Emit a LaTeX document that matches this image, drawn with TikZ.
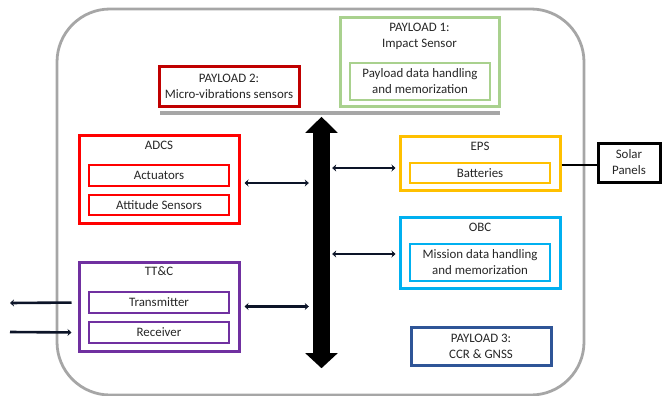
\documentclass[tikz,border=0pt]{standalone}
\usepackage{fontspec}
\setmainfont{Carlito}
\usepackage{xcolor}
\usetikzlibrary{positioning, arrows.meta}
\definecolor{framegray}{RGB}{166,166,166}
\definecolor{payloadred}{RGB}{192,0,0}
\definecolor{payloadgreen}{RGB}{169,209,142}
\definecolor{payloadblue}{RGB}{47,85,151}
\definecolor{adcsred}{RGB}{255,0,0}
\definecolor{ttcpurple}{RGB}{112,48,160}
\definecolor{epsgold}{RGB}{255,192,0}
\definecolor{obcblue}{RGB}{0,176,240}
\definecolor{linknavy}{RGB}{12,20,40}

\begin{document}
\begin{tikzpicture}[
    x=1pt, y=-1pt,
    txt/.style={font=\fontsize{12.9}{16}\selectfont, align=center, text=black!85},
    unit/.style={draw=#1, line width=3pt, inner sep=0pt},
    part/.style={draw=#1, line width=2.1pt, inner sep=0pt, minimum width=140pt, txt},
    link/.style={draw=linknavy, line width=2.2pt, {Stealth[length=4pt,width=7pt]}-{Stealth[length=4pt,width=7pt]}}
]
    \useasboundingbox (0,0) rectangle (664,396);

    % Spacecraft outline and payload shelf
    \draw[framegray, line width=2.8pt, rounded corners=53pt] (57,9) rectangle (584,395);
    \draw[framegray, line width=3.2pt] (160,113) -- (500,113);

    % Payloads
    \node[unit=payloadred, minimum width=140pt, minimum height=39pt, txt] (pl2) at (229,86.5)
        {PAYLOAD 2:\\Micro-vibrations sensors};
    \node[unit=payloadgreen, minimum width=159pt, minimum height=88pt] (pl1) at (419.5,62) {};
    \node[txt] (pl1t) at ([yshift=-19.5pt]pl1.north) {PAYLOAD 1:\\Impact Sensor};
    \node[part=payloadgreen, minimum height=37pt] (pl1mem) at (420,81.5)
        {Payload data handling\\and memorization};
    \node[unit=payloadblue, minimum width=140pt, minimum height=38pt, txt] (pl3) at (481,346)
        {PAYLOAD 3:\\CCR \& GNSS};

    % ADCS
    \node[unit=adcsred, minimum width=160pt, minimum height=88pt] (adcs) at (159,179) {};
    \node[txt] (adcst) at ([yshift=-11.5pt]adcs.north) {ADCS};
    \node[part=adcsred, minimum height=21pt] (act) at (159,175.5) {Actuators};
    \node[part=adcsred, minimum height=20pt] (att) at (159,205) {Attitude Sensors};

    % TT&C
    \node[unit=ttcpurple, minimum width=160pt, minimum height=89pt] (ttc) at (159,306.5) {};
    \node[txt] (ttct) at ([yshift=-11pt]ttc.north) {TT\&C};
    \node[part=ttcpurple, minimum height=21pt] (tx) at (159,302.5) {Transmitter};
    \node[part=ttcpurple, minimum height=21pt] (rx) at (159,332.5) {Receiver};

    % EPS
    \node[unit=epsgold, minimum width=160pt, minimum height=54pt] (eps) at (480,163) {};
    \node[txt] (epst) at ([yshift=-12pt]eps.north) {EPS};
    \node[part=epsgold, minimum height=20pt] (bat) at (480,173) {Batteries};
    \node[draw=black, line width=3pt, minimum width=62pt, minimum height=39pt, inner sep=0pt, txt]
        (solar) at (629,162.5) {Solar\\Panels};

    % OBC
    \node[unit=obcblue, minimum width=160pt, minimum height=71pt] (obc) at (480,252.5) {};
    \node[txt] (obct) at ([yshift=-11.5pt]obc.north) {OBC};
    \node[part=obcblue, minimum height=37pt] (obcmem) at (480,262.5)
        {Mission data handling\\and memorization};

    % Data bus
    \node[fill=black, minimum width=17pt, minimum height=220pt, inner sep=0pt] (bus) at (321.5,243) {};
    \fill ([xshift=-7.5pt]bus.north west) -- ([yshift=16pt]bus.north) -- ([xshift=7.5pt]bus.north east) -- cycle;
    \fill ([xshift=-7.5pt]bus.south west) -- ([yshift=-15pt]bus.south) -- ([xshift=7.5pt]bus.south east) -- cycle;

    % Links to the bus
    \draw[link, shorten <=4pt, shorten >=4pt] ([yshift=-4pt]adcs.east) -- ([yshift=-4pt]adcs.east -| bus.west);
    \draw[link, shorten <=4pt, shorten >=4pt] (ttc.east) -- (ttc.east -| bus.west);
    \draw[link, shorten <=2pt, shorten >=3pt] ([yshift=-5pt]eps.west -| bus.east) -- ([yshift=-5pt]eps.west);
    \draw[link, shorten <=2pt, shorten >=3pt] ([yshift=-1.5pt]obc.west -| bus.east) -- ([yshift=-1.5pt]obc.west);
    \draw[black, line width=2.8pt] ([yshift=-2pt]eps.east) -- ([yshift=-2pt]eps.east -| solar.west);

    % Radio links
    \coordinate (txfar) at (10,303);
    \coordinate (rxfar) at (10,332);
    \draw[linknavy, line width=2.6pt, -{Stealth[length=4pt,width=7pt]}, shorten <=6pt] (ttc.west |- tx) -- (txfar);
    \draw[linknavy, line width=2.6pt, -{Stealth[length=4pt,width=7pt]}, shorten >=6pt] (rxfar) -- (ttc.west |- rx);
\end{tikzpicture}
\end{document}
